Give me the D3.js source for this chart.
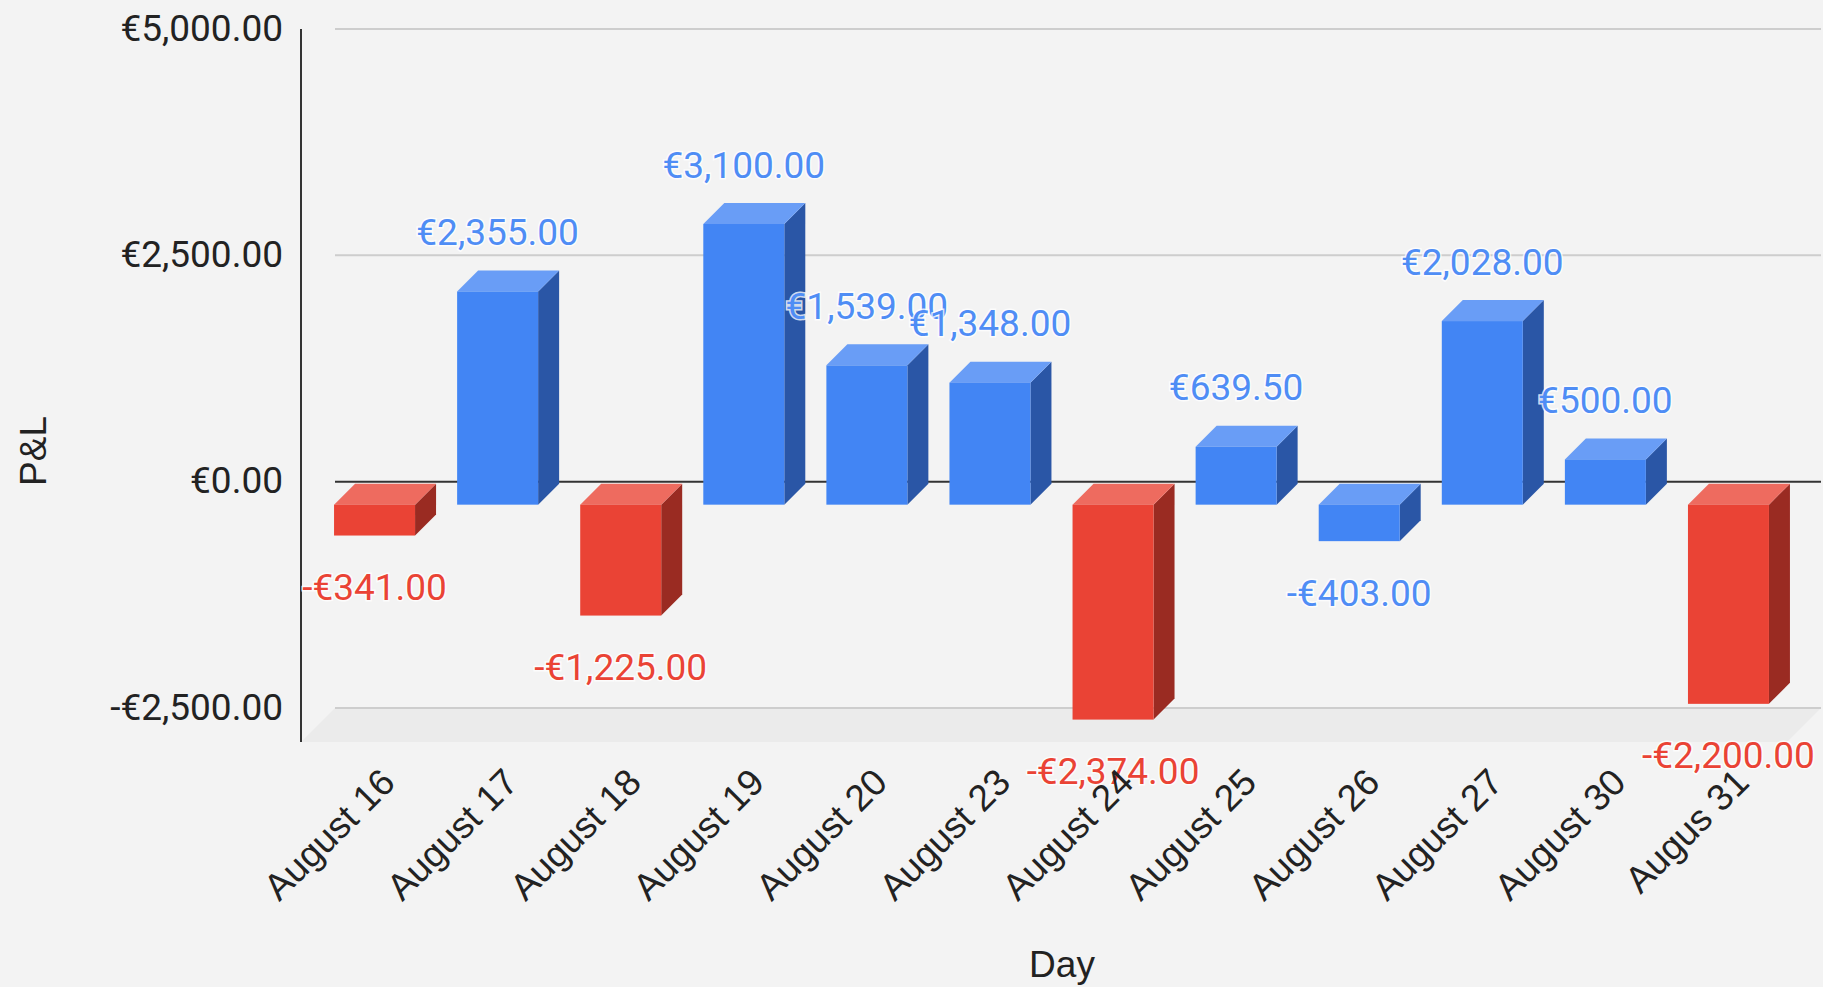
<!DOCTYPE html>
<html>
<head>
<meta charset="utf-8">
<script src="https://cdn.jsdelivr.net/npm/d3@7"></script>
<style>
  html, body { margin:0; padding:0; background:#f3f3f3; }
  svg { display:block; }
</style>
</head>
<body>
<svg id="chart" width="1823" height="987"></svg>
<script>
// datos
const days = ["August 16","August 17","August 18","August 19","August 20","August 23","August 24","August 25","August 26","August 27","August 30","Augus 31"];
const pnl = [-341, 2355, -1225, 3100, 1539, 1348, -2374, 639.5, -403, 2028, 500, -2200];
const series = ["loss","profit","loss","profit","profit","profit","loss","profit","profit","profit","profit","loss"];
const yTicks = [-2500, 0, 2500, 5000];

const W = 1823, H = 987;

// colores por serie (frente, tapa, lado)
const palette = {
  profit: { front:"#4285f4", top:"#699df6", side:"#2a56a6", text:"#4f8df5" },
  loss:   { front:"#ea4335", top:"#ee6b5f", side:"#9a2b22", text:"#ea4335" }
};

const euro = v => (v < 0 ? "-" : "") + "€" + d3.format(",.2f")(Math.abs(v));

const svg = d3.select("#chart");

// plano trasero
const backL = 335, backR = 1821;
const depth = 34;          // profundidad del suelo
const dFront = 23, dBack = 2; // profundidad de las barras

const x = d3.scaleBand().domain(days).range([336, 1813]).paddingInner(0.342).paddingOuter(0.171);
const y = d3.scaleLinear().domain([-2500, 5000]).range([708, 29]);

const yMin = y(-2500);

// suelo
svg.append("polygon")
  .attr("points", [[backL, yMin], [backR, yMin], [backR - depth, yMin + depth], [backL - depth, yMin + depth]].join(" "))
  .attr("fill", "#ebebeb");

// rejilla
svg.append("g")
  .selectAll("line")
  .data(yTicks.filter(t => t !== 0))
  .enter().append("line")
  .attr("x1", backL).attr("x2", backR)
  .attr("y1", d => y(d)).attr("y2", d => y(d))
  .attr("stroke", "#cdcdcd")
  .attr("stroke-width", 2);

svg.append("line")
  .attr("x1", backL).attr("x2", backR)
  .attr("y1", y(0)).attr("y2", y(0))
  .attr("stroke", "#333")
  .attr("stroke-width", 2);

// barras 3D
const w = x.bandwidth();
const bars = svg.append("g");
days.forEach((day, i) => {
  const v = pnl[i];
  const c = palette[series[i]];
  const bx = x(day) - dFront;
  const yTop = y(Math.max(0, v)), yBot = y(Math.min(0, v));
  const k = dFront - dBack;
  const g = bars.append("g");

  g.append("polygon")
    .attr("points", [[bx + w, yTop + dFront], [bx + w + k, yTop + dBack], [bx + w + k, yBot + dBack], [bx + w, yBot + dFront]].join(" "))
    .attr("fill", c.side);
  g.append("polygon")
    .attr("points", [[bx, yTop + dFront], [bx + w, yTop + dFront], [bx + w + k, yTop + dBack], [bx + k, yTop + dBack]].join(" "))
    .attr("fill", c.top);
  g.append("rect")
    .attr("x", bx).attr("y", yTop + dFront)
    .attr("width", w).attr("height", yBot - yTop)
    .attr("fill", c.front);
});

// eje Y
svg.append("line")
  .attr("x1", backL - depth).attr("x2", backL - depth)
  .attr("y1", y(5000)).attr("y2", yMin + depth)
  .attr("stroke", "#333")
  .attr("stroke-width", 2);

svg.append("g")
  .selectAll("text")
  .data(yTicks)
  .enter().append("text")
  .attr("x", 283)
  .attr("y", d => y(d) + 11.5)
  .attr("text-anchor", "end")
  .attr("fill", "#222")
  .style("font-family", "Roboto, sans-serif")
  .style("font-size", "37px")
  .text(euro);

// etiquetas de datos
svg.append("g")
  .selectAll("text")
  .data(days)
  .enter().append("text")
  .attr("x", d => x(d) - dFront + w / 2)
  .attr("y", (d, i) => pnl[i] >= 0 ? y(pnl[i]) + dFront - 46.5 : y(pnl[i]) + dFront + 64.5)
  .attr("text-anchor", "middle")
  .attr("fill", (d, i) => palette[series[i]].text)
  .attr("stroke", "#ffffff")
  .attr("stroke-opacity", 0.8)
  .attr("stroke-width", 3)
  .attr("paint-order", "stroke")
  .style("font-family", "Roboto, sans-serif")
  .style("font-size", "37px")
  .text((d, i) => euro(pnl[i]));

// etiquetas del eje X
svg.append("g")
  .selectAll("text")
  .data(days)
  .enter().append("text")
  .attr("transform", d => `translate(${x(d) - dFront + w / 2 + 22.5},784.5) rotate(-45)`)
  .attr("text-anchor", "end")
  .attr("fill", "#222")
  .style("font-family", "Arial, 'Liberation Sans', sans-serif")
  .style("font-size", "37px")
  .text(d => d);

// títulos
svg.append("text")
  .attr("x", 1062).attr("y", 977)
  .attr("text-anchor", "middle")
  .attr("fill", "#222")
  .style("font-family", "Arial, 'Liberation Sans', sans-serif")
  .style("font-size", "37px")
  .text("Day");

svg.append("text")
  .attr("transform", "translate(46,451) rotate(-90)")
  .attr("text-anchor", "middle")
  .attr("fill", "#222")
  .style("font-family", "Arial, 'Liberation Sans', sans-serif")
  .style("font-size", "37px")
  .text("P&L");
</script>
</body>
</html>
